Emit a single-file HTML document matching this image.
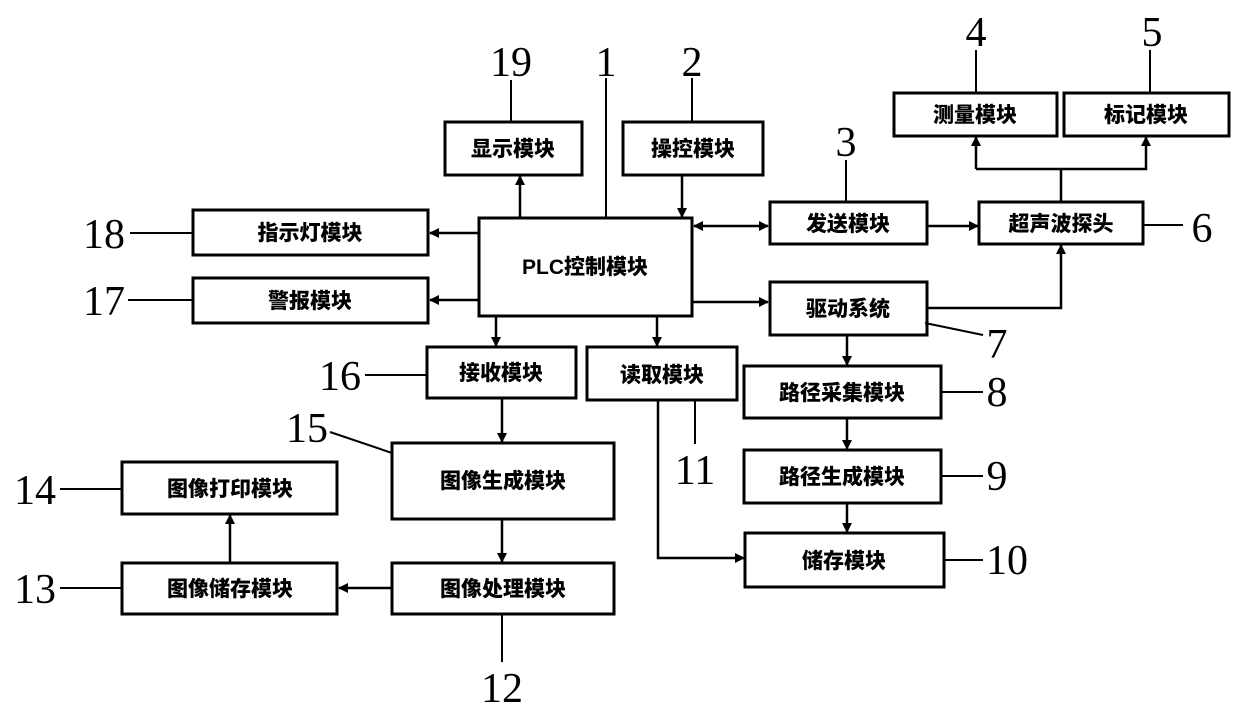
<!DOCTYPE html>
<html><head><meta charset="utf-8"><style>
html,body{margin:0;padding:0;background:#fff;}
svg text{font-family:"Liberation Serif","Noto Serif CJK SC",serif;}
.c{font-family:"Liberation Sans","Noto Sans CJK SC",sans-serif;font-weight:900;font-size:21px;}
.n{font-size:42px;font-family:"Liberation Serif",serif;}
</style></head><body>
<svg width="1240" height="710" viewBox="0 0 1240 710" xmlns="http://www.w3.org/2000/svg">
<defs><marker id="a" markerWidth="10" markerHeight="10" refX="9" refY="5" orient="auto" markerUnits="userSpaceOnUse"><path d="M0,0 L10,5 L0,10 z" fill="#000"/></marker>
<marker id="b" markerWidth="10" markerHeight="10" refX="1" refY="5" orient="auto" markerUnits="userSpaceOnUse"><path d="M10,0 L0,5 L10,10 z" fill="#000"/></marker></defs>
<g fill="none" stroke="#000" stroke-width="3">
<rect x="479" y="218" width="213" height="98"/>
<rect x="445" y="122" width="137" height="53"/>
<rect x="623" y="122" width="140" height="53"/>
<rect x="894" y="93" width="163" height="43"/>
<rect x="1064" y="93" width="165" height="43"/>
<rect x="770" y="202" width="157" height="42"/>
<rect x="979" y="202" width="164" height="42"/>
<rect x="770" y="282" width="157" height="53"/>
<rect x="193" y="210" width="235" height="45"/>
<rect x="193" y="278" width="235" height="45"/>
<rect x="427" y="347" width="149" height="51"/>
<rect x="587" y="347" width="150" height="53"/>
<rect x="744" y="366" width="197" height="52"/>
<rect x="744" y="450" width="197" height="53"/>
<rect x="745" y="533" width="199" height="54"/>
<rect x="392" y="443" width="222" height="76"/>
<rect x="392" y="563" width="222" height="51"/>
<rect x="122" y="462" width="215" height="52"/>
<rect x="122" y="563" width="215" height="51"/>
</g>
<g fill="none" stroke="#000" stroke-width="2.5">
<line x1="520" y1="218" x2="520" y2="176" marker-end="url(#a)"/>
<line x1="682" y1="175" x2="682" y2="217" marker-end="url(#a)"/>
<line x1="694" y1="226" x2="768" y2="226" marker-start="url(#b)" marker-end="url(#a)"/>
<line x1="927" y1="226" x2="978" y2="226" marker-end="url(#a)"/>
<line x1="692" y1="302" x2="768" y2="302" marker-end="url(#a)"/>
<polyline points="927,308 1061,308 1061,245" marker-end="url(#a)"/>
<line x1="1061" y1="202" x2="1061" y2="169"/>
<polyline points="976,169 976,137" marker-end="url(#a)"/>
<polyline points="976,169 1146,169 1146,137" marker-end="url(#a)"/>
<line x1="479" y1="233" x2="430" y2="233" marker-end="url(#a)"/>
<line x1="479" y1="300" x2="430" y2="300" marker-end="url(#a)"/>
<line x1="496" y1="316" x2="496" y2="346" marker-end="url(#a)"/>
<line x1="657" y1="316" x2="657" y2="346" marker-end="url(#a)"/>
<line x1="847" y1="335" x2="847" y2="365" marker-end="url(#a)"/>
<line x1="847" y1="418" x2="847" y2="449" marker-end="url(#a)"/>
<line x1="847" y1="503" x2="847" y2="532" marker-end="url(#a)"/>
<polyline points="658,400 658,558 744,558" marker-end="url(#a)"/>
<line x1="502" y1="398" x2="502" y2="442" marker-end="url(#a)"/>
<line x1="502" y1="519" x2="502" y2="562" marker-end="url(#a)"/>
<line x1="392" y1="588" x2="339" y2="588" marker-end="url(#a)"/>
<line x1="230" y1="563" x2="230" y2="515" marker-end="url(#a)"/>
</g>
<g stroke="#000" stroke-width="2">
<line x1="511" y1="122" x2="511" y2="80"/>
<line x1="606" y1="218" x2="606" y2="78"/>
<line x1="692" y1="122" x2="692" y2="78"/>
<line x1="846" y1="202" x2="846" y2="160"/>
<line x1="976" y1="93" x2="976" y2="50"/>
<line x1="1150" y1="93" x2="1150" y2="50"/>
<line x1="1143" y1="225" x2="1183" y2="225"/>
<line x1="925" y1="323" x2="983" y2="335"/>
<line x1="941" y1="392" x2="983" y2="392"/>
<line x1="941" y1="476" x2="983" y2="476"/>
<line x1="944" y1="560" x2="983" y2="560"/>
<line x1="695" y1="400" x2="695" y2="444"/>
<line x1="502" y1="614" x2="502" y2="662"/>
<line x1="60" y1="588" x2="122" y2="588"/>
<line x1="60" y1="489" x2="122" y2="489"/>
<line x1="330" y1="432" x2="392" y2="453"/>
<line x1="365" y1="375" x2="427" y2="375"/>
<line x1="128" y1="300" x2="193" y2="300"/>
<line x1="130" y1="233" x2="193" y2="233"/>
</g>
<g class="c" text-anchor="middle" fill="#000">
<text x="585" y="274" class="c">PLC控制模块</text>
<text x="513" y="156" class="c">显示模块</text>
<text x="693" y="156" class="c">操控模块</text>
<text x="975" y="122" class="c">测量模块</text>
<text x="1146" y="122" class="c">标记模块</text>
<text x="848" y="231" class="c">发送模块</text>
<text x="1061" y="231" class="c">超声波探头</text>
<text x="848" y="316" class="c">驱动系统</text>
<text x="310" y="240" class="c">指示灯模块</text>
<text x="310" y="308" class="c">警报模块</text>
<text x="501" y="380" class="c">接收模块</text>
<text x="662" y="382" class="c">读取模块</text>
<text x="842" y="400" class="c">路径采集模块</text>
<text x="842" y="484" class="c">路径生成模块</text>
<text x="844" y="568" class="c">储存模块</text>
<text x="503" y="488" class="c">图像生成模块</text>
<text x="503" y="596" class="c">图像处理模块</text>
<text x="230" y="496" class="c">图像打印模块</text>
<text x="230" y="596" class="c">图像储存模块</text>
</g>
<g class="n" fill="#000" text-anchor="middle">
<text x="511" y="76" class="n">19</text>
<text x="606" y="76" class="n">1</text>
<text x="692" y="76" class="n">2</text>
<text x="846" y="156" class="n">3</text>
<text x="976" y="46" class="n">4</text>
<text x="1152" y="46" class="n">5</text>
<text x="1202" y="242" class="n">6</text>
<text x="997" y="358" class="n">7</text>
<text x="997" y="406" class="n">8</text>
<text x="997" y="490" class="n">9</text>
<text x="1007" y="574" class="n">10</text>
<text x="695" y="484" class="n">11</text>
<text x="502" y="702" class="n">12</text>
<text x="35" y="603" class="n">13</text>
<text x="35" y="504" class="n">14</text>
<text x="307" y="442" class="n">15</text>
<text x="340" y="390" class="n">16</text>
<text x="104" y="315" class="n">17</text>
<text x="104" y="248" class="n">18</text>
</g>
</svg>
</body></html>
